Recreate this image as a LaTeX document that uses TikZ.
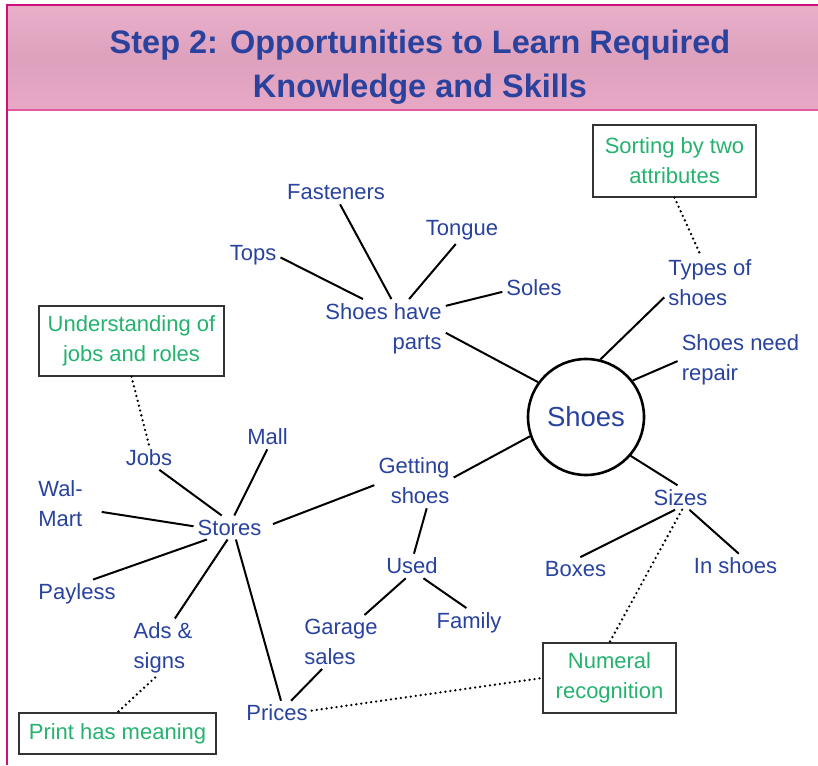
\documentclass[tikz,border=0pt]{standalone}
\usepackage{fontspec}
\setmainfont{Liberation Sans}

\definecolor{topicblue}{RGB}{40,66,158}
\definecolor{skillgreen}{RGB}{36,178,110}
\definecolor{framepink}{RGB}{208,16,122}
\definecolor{bandpink}{RGB}{231,168,197}

\begin{document}
\begin{tikzpicture}[
    x=1pt, y=-1pt,
    topic/.style={text=topicblue, inner sep=4pt, font=\fontsize{22}{30}\selectfont},
    skill/.style={draw=black!80, line width=1.2pt, text=skillgreen, align=center, inner sep=0pt, font=\fontsize{22}{30}\selectfont},
    link/.style={line width=2pt},
    hint/.style={line width=2.6pt, line cap=round, dash pattern=on 0pt off 5pt}
]
\useasboundingbox (0,0) rectangle (818,765);

% === HEADER BAND ===
\shade[top color=bandpink!92!white, bottom color=bandpink, middle color=bandpink!96!black] (7,5) rectangle (818,110);
\draw[framepink!70, line width=1.5pt] (7,110) -- (818,110);
\draw[framepink, line width=2.5pt] (818,5) -- (7,5) -- (7,765);

\node[text=topicblue, align=center, font=\fontsize{32.5}{43.5}\selectfont\bfseries] (title) at (420,67)
    {Step 2: Opportunities to Learn Required\\Knowledge and Skills};

% === CENTRE ===
\node[circle, draw, line width=2.6pt, minimum size=116pt, inner sep=0pt, text=topicblue,
      font=\fontsize{27.5}{30}\selectfont] (shoes) at (586,417) {Shoes};

% parts of a shoe
\node[topic] (fast) at (336,192.5) {Fasteners};
\node[topic] (tongue) at (462,230) {Tongue};
\node[topic] (tops) at (253,255) {Tops};
\node[topic] (soles) at (534,288) {Soles};
\node[topic, align=right] (parts) at (383.5,328.5) {Shoes have\\parts};

% right hand side
\node[topic, align=left] (types) at (710,282.5) {Types of\\shoes};
\node[topic, align=left] (repair) at (740.5,360) {Shoes need\\repair};
\node[topic] (sizes) at (680.5,497.5) {Sizes};
\node[topic] (boxes) at (575.5,569) {Boxes};
\node[topic] (inshoes) at (735.5,566) {In shoes};

% getting shoes
\node[topic, align=right] (getting) at (414,481) {Getting\\shoes};
\node[topic] (used) at (412,566) {Used};
\node[topic] (family) at (469,622.5) {Family};
\node[topic, align=left] (garage) at (341,642) {Garage\\sales};
\node[topic] (prices) at (277,713) {Prices};

% stores
\node[topic] (stores) at (229.5,527.5) {Stores};
\node[topic] (mall) at (267.5,437) {Mall};
\node[topic] (jobs) at (149,457.5) {Jobs};
\node[topic, align=left] (walmart) at (60.5,504) {Wal-\\Mart};
\node[topic] (payless) at (77,594) {Payless};
\node[topic, align=left] (ads) at (163,648) {Ads \&\\signs};

% === SKILLS ===
\node[skill, minimum width=163pt, minimum height=72pt] (sortbox) at (674.5,161) {Sorting by two\\attributes};
\node[skill, minimum width=185pt, minimum height=70pt] (rolebox) at (131.5,341) {Understanding of\\jobs and roles};
\node[skill, minimum width=133pt, minimum height=70pt] (numbox) at (609.5,678) {Numeral\\recognition};
\node[skill, minimum width=197pt, minimum height=41pt] (printbox) at (117.5,733.5) {Print has meaning};

% === LINKS ===
\draw[link] (fast.-71) -- (parts.75);
\draw[link] (tongue.-114) -- (parts.49);
\draw[link] (tops.-5) -- (parts.125);
\draw[link] (soles.-173) -- (parts.20);
\draw[link] (parts.-4) -- (shoes.144);
\draw[link] (types.-162) -- (shoes.76);
\draw[link] (repair.-179) -- (shoes.38);
\draw[link] (shoes.-41) -- (sizes.104);
\draw[link] (sizes.-114) -- (boxes.68);
\draw[link] (sizes.-54) -- (inshoes.75);
\draw[link] (getting.5) -- (shoes.-161);
\draw[link, shorten >=8pt] (getting.-174) -- (stores.1);
\draw[link] (getting.-65) -- (used.81);
\draw[link] (used.-117) -- (garage.49);
\draw[link] (used.-47) -- (family.100);
\draw[link] (garage.-125) -- (prices.41);
\draw[link] (stores.68) -- (mall.-91);
\draw[link] (stores.123) -- (jobs.-50);
\draw[link, shorten >=15pt] (stores.178) -- (walmart.-12);
\draw[link] (stores.-152) -- (payless.42);
\draw[link] (stores.-99) -- (ads.68);
\draw[link] (stores.-62) -- (prices.72);

% skill hints
\draw[hint] (sortbox.south) -- (types.109);
\draw[hint] (rolebox.south) -- (jobs.north);
\draw[hint] (ads.-105) -- (printbox.north);
\draw[hint] (sizes.-83) -- (numbox.north);
\draw[hint] (prices.4) -- (numbox.west);

\end{tikzpicture}
\end{document}
